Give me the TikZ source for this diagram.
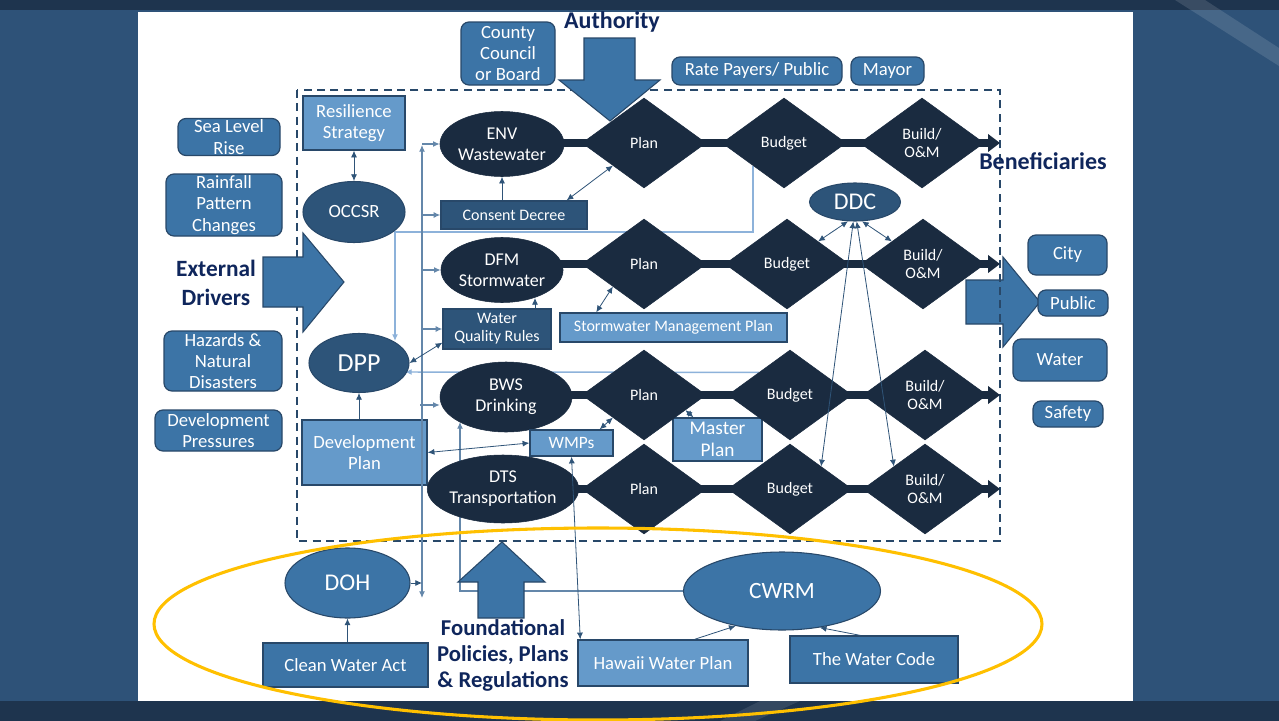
\documentclass[tikz,border=0pt]{standalone}
\usepackage{fontspec}
\setmainfont{Carlito}
\usetikzlibrary{shapes.geometric,arrows.meta,calc}
\definecolor{bgnavy}{RGB}{46,82,120}
\definecolor{bgdark}{RGB}{30,52,78}
\definecolor{pipec}{RGB}{26,43,64}
\definecolor{dblue}{RGB}{45,84,121}
\definecolor{mblue}{RGB}{60,116,166}
\definecolor{lblue}{RGB}{101,154,202}
\definecolor{edgec}{RGB}{40,72,105}
\definecolor{titlec}{RGB}{15,38,92}
\definecolor{connc}{RGB}{47,84,120}
\definecolor{busc}{RGB}{100,135,170}
\definecolor{lconn}{RGB}{141,178,218}
\definecolor{gold}{RGB}{255,192,0}
\newcommand\fsB{\fontsize{14}{16}\selectfont}
\newcommand\fsE{\fontsize{13.5}{15.75}\selectfont}
\newcommand\fsD{\fontsize{12}{14}\selectfont}
\newcommand\fsS{\fontsize{12}{13.5}\selectfont}
\newcommand\fsT{\fontsize{18}{20}\selectfont\bfseries}
\newcommand\fsX{\fontsize{17.5}{21.75}\selectfont\bfseries}
\pgfdeclarelayer{back}
\pgfdeclarelayer{pipes}
\pgfsetlayers{back,pipes,main}
\begin{document}
\begin{tikzpicture}[x=0.75pt,y=-0.75pt,
  sz/.style 2 args={minimum width={#1*0.75pt}, minimum height={#2*0.75pt}},
  txt/.style={text=white, align=center, inner sep=0pt, font=\fsB},
  rbox/.style={txt, draw=edgec, line width=0.9pt, rounded corners=6pt, fill=mblue},
  lbox/.style={txt, draw=edgec, line width=1.1pt, fill=lblue},
  dbox/.style={txt, draw=edgec, line width=1pt, fill=dblue},
  mbox/.style={txt, draw=edgec, line width=0.9pt, fill=mblue},
  ell/.style={txt, ellipse},
  pell/.style={ell, fill=pipec, draw=pipec, font=\fsE},
  dell/.style={ell, fill=dblue, draw=edgec, line width=0.8pt},
  mell/.style={ell, fill=mblue, draw=edgec, line width=0.8pt},
  dia/.style={diamond, fill=pipec, draw=pipec, text=white, align=center, inner sep=0pt,
    minimum width=93pt, minimum height=67.5pt, font=\fsD},
  ttl/.style={text=titlec, align=center, inner sep=0pt, font=\fsT},
  blk/.style={fill=mblue, draw=edgec, line width=0.8pt},
  pipeln/.style={draw=pipec, line width=6pt, -{Triangle[length=9pt,width=13pt]}},
  cn/.style={draw=connc, line width=0.6pt},
  bus/.style={draw=busc, line width=0.9pt},
  lt/.style={draw=lconn, line width=1.1pt},
  tipE/.style={-{Latex[length=5pt,width=4.5pt]}},
  tipB/.style={{Latex[length=5pt,width=4.5pt]}-{Latex[length=5pt,width=4.5pt]}},
  dashbox/.style={draw=edgec, line width=1.5pt, dash pattern=on 6pt off 4pt}
]
\useasboundingbox (0,0) rectangle (1279,721);
\begin{pgfonlayer}{back}
  \fill[bgnavy] (0,0) rectangle (1279,721);
  \fill[bgdark] (0,0) rectangle (1279,10);
  \fill[bgdark] (0,701) rectangle (1279,721);
  \fill[white, opacity=0.12] (1175,0) -- (1205,0) -- (1279,48) -- (1279,66) -- cycle;
  \fill[white, opacity=0.10] (720,721) -- (760,701) -- (800,701) -- (755,721) -- cycle;
  \fill[white] (138,12) rectangle (1133,701);
\end{pgfonlayer}

% ---------- left drivers ----------
\node[rbox, sz={102}{37}] (slr) at (229,137) {Sea Level\\Rise};
\node[rbox, sz={116}{62}] (rain) at (224,205) {Rainfall\\Pattern\\Changes};
\node[rbox, sz={118}{60}] (haz) at (223,361) {Hazards \&\\Natural\\Disasters};
\node[rbox, sz={127}{41}] (devp) at (218.5,430.5) {Development\\Pressures};
\node[ttl, font=\fsX] (extd) at (216,283) {External\\Drivers};
\filldraw[blk] (263,257) -- (303,257) -- (303,233) -- (344,282) -- (303,332) -- (303,307) -- (263,307) -- cycle;

% ---------- top ----------
\node[rbox, sz={94}{63}] (ccb) at (508,53.5) {County\\Council\\or Board};
\node[ttl] (auth) at (612,22) {Authority};
\node[rbox, sz={170}{28}] (rpp) at (757,71) {Rate Payers/ Public};
\node[rbox, sz={73}{28}] (mayor) at (887.5,71) {Mayor};

% ---------- inside ----------
\node[lbox, sz={102}{54}] (res) at (354,123) {Resilience\\Strategy};
\node[dell, sz={102}{61}, font=\fontsize{14}{16}\selectfont] (occsr) at (354,212) {OCCSR};
\node[dell, sz={100}{59}, font=\fontsize{19.5}{22}\selectfont] (dpp) at (359,363) {DPP};
\node[lbox, sz={125}{65}] (devplan) at (364.5,452.5) {Development\\Plan};

\node[pell, sz={122}{65}] (env) at (502,144) {ENV\\Wastewater};
\node[dbox, sz={146}{28}, font=\fsS] (cd) at (514,215) {Consent Decree};
\node[pell, sz={122}{65}] (dfm) at (502,270) {DFM\\Stormwater};
\node[dbox, sz={108}{40}, font=\fsS] (wqr) at (497,329) {Water\\Quality Rules};
\node[lbox, sz={227}{29}, font=\fsS] (smp) at (673.5,327.5) {Stormwater Management Plan};
\node[pell, sz={132}{70}] (bws) at (506,397) {BWS\\Drinking};
\node[lbox, sz={83}{26}, font=\fontsize{13}{15}\selectfont] (wmps) at (571.5,443) {WMPs};
\node[lbox, sz={89}{43}, font=\fontsize{14.5}{16}\selectfont] (master) at (717.5,439.5) {Master\\Plan};
\node[pell, sz={131}{68}] (dts) at (503,489) {DTS\\Transportation};
\node[dell, sz={91}{38}, font=\fontsize{18}{20}\selectfont] (ddc) at (855,202) {DDC};

\node[dia] (plan1) at (644,143) {Plan};
\node[dia] (bud1) at (784,143) {Budget};
\node[dia] (bld1) at (922,143) {Build/\\O\&M};
\node[dia] (plan2) at (644,264) {Plan};
\node[dia] (bud2) at (787,264) {Budget};
\node[dia] (bld2) at (923,264) {Build/\\O\&M};
\node[dia] (plan3) at (644,395) {Plan};
\node[dia] (bud3) at (790,395) {Budget};
\node[dia] (bld3) at (925,395) {Build/\\O\&M};
\node[dia] (plan4) at (644,489) {Plan};
\node[dia] (bud4) at (790,489) {Budget};
\node[dia] (bld4) at (925,489) {Build/\\O\&M};

% ---------- right ----------
\node[ttl] (benef) at (1043,161) {Beneficiaries};
\node[rbox, sz={79}{40}] (city) at (1067.5,255) {City};
\node[rbox, sz={94}{42}] (water) at (1060,360) {Water};
\node[rbox, sz={70}{26}] (safety) at (1068,414) {Safety};

% ---------- bottom ----------
\filldraw[blk] (502,542) -- (545,582) -- (524,582) -- (524,618) -- (478,618) -- (478,582) -- (458,582) -- cycle;
\node[mell, sz={125}{70}, font=\fontsize{18}{20}\selectfont] (doh) at (347.5,583) {DOH};
\node[mbox, sz={165}{44}] (cwa) at (345.5,665) {Clean Water Act};
\node[ttl, font=\fontsize{17}{19.5}\selectfont\bfseries] (found) at (503,655) {Foundational\\Policies, Plans\\\& Regulations};
\node[mell, sz={197}{78}, font=\fontsize{17.5}{20}\selectfont] (cwrm) at (782,591) {CWRM};
\node[lbox, sz={170}{46}] (hwp) at (663,663) {Hawaii Water Plan};
\node[mbox, sz={168}{47}] (twc) at (874,659.5) {The Water Code};

\filldraw[blk] (584,38) -- (635,38) -- (635,80) -- (660,80) -- (610,121) -- (559,80) -- (584,80) -- cycle;

% ---------- pipes and background connectors ----------
\coordinate (end1) at (1000,143);
\coordinate (end2) at (1000,264);
\coordinate (end3) at (1000,395);
\coordinate (end4) at (1000,489);
\coordinate (dppTop) at (395,341);
\coordinate (dppR) at (405,372);
\coordinate (bwsBot) at (460,422);
\begin{pgfonlayer}{pipes}
  \filldraw[blk] (966,280) -- (1003,280) -- (1003,257) -- (1040,302) -- (1003,347) -- (1003,324) -- (966,324) -- cycle;
  \draw[dashbox] (297,90) rectangle (1000,541);
  \draw[pipeln] (env.center |- plan1.center) -- (end1);
  \draw[pipeln] (dfm.center |- plan2.center) -- (end2);
  \draw[pipeln] (bws.center |- plan3.center) -- (end3);
  \draw[pipeln] (dts.center |- plan4.center) -- (end4);
  \draw[lt, tipE] (bud1.south west) |- (395,232) -- (dppTop);
  \draw[lt, tipE] (bud3.north west) -- (dppR);
  \draw[bus, tipE] (cwrm.west) -| (bwsBot);
\end{pgfonlayer}
\node[rbox, sz={70}{26}] (public) at (1073,303) {Public};

% ---------- connectors ----------
\coordinate (busTop) at (422,145);
\coordinate (busBot) at (422,598);
\coordinate (busDoh) at (422,583);
\coordinate (bwsIn) at (420,405);
\coordinate (dfmIn) at (535,298);
\draw[bus, tipB] (busTop) -- (busBot);
\draw[cn, tipE] (doh.east) -- (busDoh);
\draw[bus, tipE] (busTop |- env) -- (env);
\draw[bus, tipE] (busTop |- cd) -- (cd);
\draw[bus, tipE] (busTop |- dfm) -- (dfm);
\draw[bus, tipE] (busTop |- wqr) -- (wqr);
\draw[bus, tipE] (bwsIn) -- (bwsIn -| bws.west);

\draw[cn, tipB] (res.south) -- (occsr.north);
\draw[cn, tipE] (dpp.south |- devplan.north) -- (dpp.south);
\draw[cn, tipB] ($(wqr.south west)+(0,-7)$) -- (dpp.east);
\draw[cn, tipE] (dfmIn |- wqr.north) -- (dfmIn);
\draw[cn, tipE] (env.south |- cd.north) -- (env.south);
\draw[cn, tipB] ($(cd.north east)+(-21,0)$) -- (plan1.south west);
\draw[cn, tipB] ($(smp.north west)+(37,0)$) -- (plan2.south west);
\draw[cn, tipB] ($(wmps.north east)+(-14,0)$) -- (plan3.south west);
\draw[cn, tipB] ($(master.north west)+(21,0)$) -- (plan3.-20);
\draw[cn, tipB] (devplan.east) -- (wmps.west);
\draw[cn, tipB] (wmps.south) -- ($(hwp.north west)+(3,0)$);
\draw[cn, tipB] (ddc.250) -- (bud2.north east);
\draw[cn, tipB] (ddc.290) -- (bld2.north west);
\draw[cn, tipB] (ddc.265) -- (bud4.north east);
\draw[cn, tipB] (ddc.275) -- (bld4.north west);
\draw[cn, tipE] (doh.south |- cwa.north) -- (doh.south);
\draw[cn, tipE] ($(hwp.north east)+(-54,0)$) -- (cwrm.217);
\draw[cn, tipE] ($(twc.north west)+(71,0)$) -- (cwrm.316);

% ---------- yellow ellipse ----------
\draw[gold, line width=2.3pt] (598,624) ellipse [x radius=333pt, y radius=72pt];
\end{tikzpicture}
\end{document}
